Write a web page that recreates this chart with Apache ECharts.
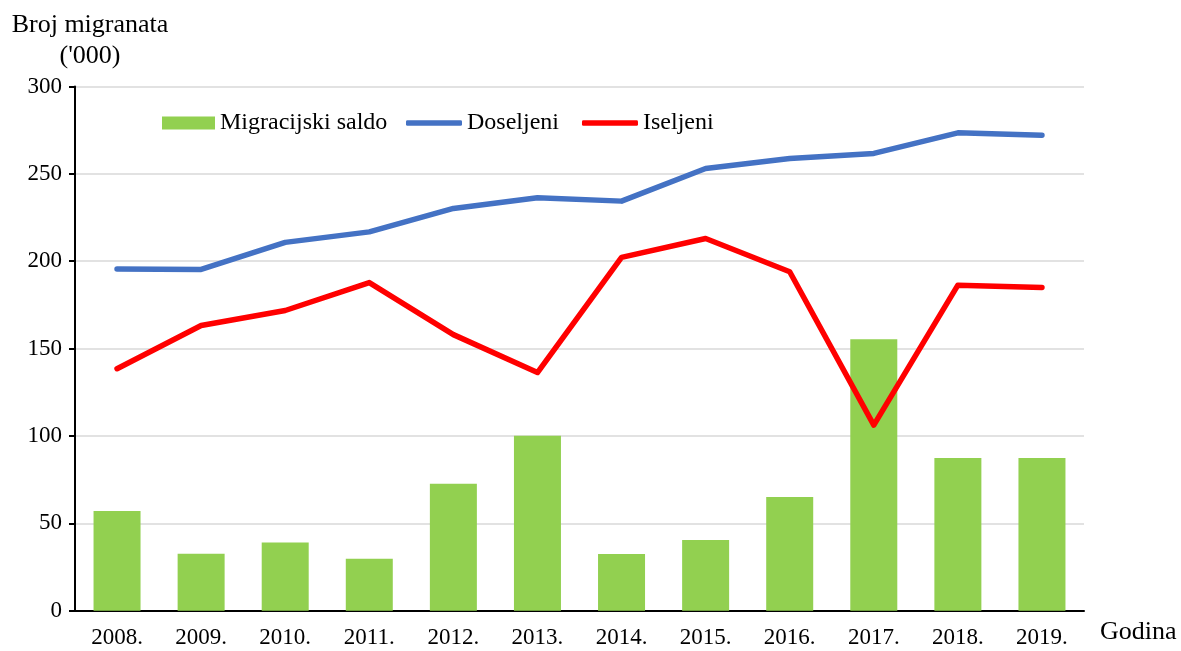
<!DOCTYPE html>
<html>
<head>
<meta charset="utf-8">
<script src="https://cdn.jsdelivr.net/npm/echarts@6/dist/echarts.min.js"></script>
<style>
  html, body { margin: 0; padding: 0; background: #fff; }
  #chart { width: 1181px; height: 651px; }
</style>
</head>
<body>
<div id="chart"></div>
<script>
// podaci ('000)
const godine = ["2008.", "2009.", "2010.", "2011.", "2012.", "2013.", "2014.", "2015.", "2016.", "2017.", "2018.", "2019."]
const saldo = [57.1, 32.6, 39.0, 29.7, 72.6, 100.1, 32.4, 40.4, 65.1, 155.4, 87.4, 87.4]
const doseljeni = [195.5, 195.3, 210.8, 216.8, 230.2, 236.3, 234.4, 253.1, 258.8, 261.7, 273.5, 272.1]
const iseljeni = [138.5, 163.2, 171.8, 187.8, 158.0, 136.3, 202.2, 213.0, 194.0, 106.2, 186.3, 185.0]

const font = "'Liberation Serif', 'Times New Roman', serif"
const legendText = { fontFamily: font, fontSize: 24, color: "#000" }

let myChart = echarts.init(document.getElementById("chart"))
myChart.setOption({
  animation: false,
  textStyle: { fontFamily: font },
  grid: {
    left: 75,
    right: 97,
    top: 86.5,
    bottom: 40.3,
  },
  legend: [
    {
      left: 157,
      top: 106,
      itemWidth: 53,
      itemHeight: 13,
      itemGap: 25,
      textStyle: legendText,
      data: [{ name: "Migracijski saldo", icon: "rect" }],
    },
    {
      left: 401,
      top: 106,
      itemWidth: 56,
      itemHeight: 5.5,
      itemGap: 23,
      textStyle: legendText,
      data: [
        { name: "Doseljeni", icon: "roundRect" },
        { name: "Iseljeni", icon: "roundRect" },
      ],
    },
  ],
  xAxis: {
    type: "category",
    data: godine,
    axisLine: { lineStyle: { color: "#000", width: 2 } },
    axisTick: { length: 6, lineStyle: { color: "#000", width: 2 } },
    axisLabel: { fontFamily: font, fontSize: 23, color: "#000", margin: 16 },
  },
  yAxis: {
    type: "value",
    min: 0,
    max: 300,
    interval: 50,
    axisLine: { show: true, lineStyle: { color: "#000", width: 2 } },
    axisTick: { show: true, length: 6, lineStyle: { color: "#000", width: 2 } },
    axisLabel: { fontFamily: font, fontSize: 23, color: "#000", margin: 13 },
    splitLine: { lineStyle: { color: "#d9d9d9", width: 1.5 } },
  },
  graphic: [
    {
      type: "text",
      x: 90,
      y: 10,
      style: {
        text: "Broj migranata\n('000)",
        font: "26px " + font,
        fill: "#000",
        align: "center",
        lineHeight: 31,
      },
    },
    {
      type: "text",
      left: 1100,
      top: 619,
      style: { text: "Godina", font: "26px " + font, fill: "#000" },
    },
  ],
  series: [
    {
      name: "Migracijski saldo",
      type: "bar",
      data: saldo,
      barWidth: 47,
      itemStyle: { color: "#92d050" },
    },
    {
      name: "Doseljeni",
      type: "line",
      data: doseljeni,
      symbol: "none",
      lineStyle: { color: "#4472c4", width: 5.5, cap: "round", join: "round" },
      itemStyle: { color: "#4472c4" },
    },
    {
      name: "Iseljeni",
      type: "line",
      data: iseljeni,
      symbol: "none",
      lineStyle: { color: "#ff0000", width: 5.5, cap: "round", join: "round" },
      itemStyle: { color: "#ff0000" },
    },
  ],
})
</script>
</body>
</html>
